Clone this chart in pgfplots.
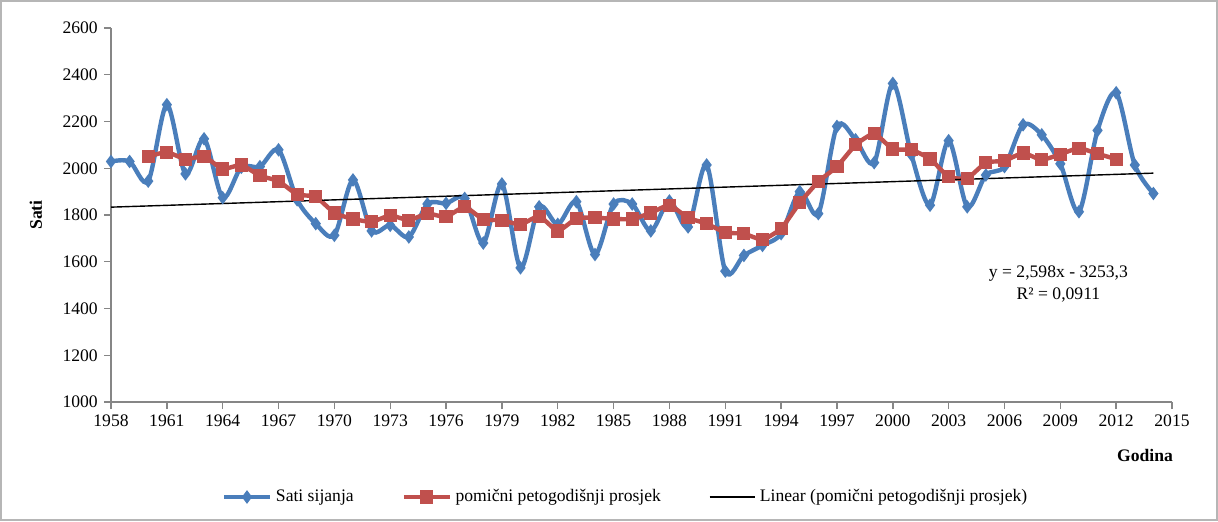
\documentclass[border=0pt]{standalone}
\usepackage{fontspec}
\setmainfont{Liberation Serif}
\usepackage{pgfplots}
\pgfplotsset{compat=1.18}
\definecolor{xblue}{RGB}{74,126,187}
\definecolor{xred}{RGB}{192,80,77}
\definecolor{axgray}{RGB}{134,134,134}
\begin{document}
\fontsize{8.8}{10.5}\selectfont
\begin{tikzpicture}[x=1pt,y=1pt]
\draw[axgray!60, line width=0.6pt] (0.5,0.5) rectangle (608.5,260);
\useasboundingbox (0,0) rectangle (609,260.5);
\begin{axis}[
  at={(55.5pt,59.5pt)}, anchor=south west,
  width=530.5pt, height=187pt, scale only axis,
  xmin=1958, xmax=2015, ymin=1000, ymax=2600,
  xtick={1958,1961,...,2015},
  ytick={1000,1200,...,2600},
  axis x line*=bottom, axis y line*=left,
  axis line style={axgray, line width=0.7pt},
  tick style={axgray, line width=0.7pt},
  tick align=outside, major tick length=3.5pt,
  /pgf/number format/assume math mode=true,
  /pgf/number format/set thousands separator={},
  ticklabel style={font=\fontsize{8.8}{10.5}\selectfont, black},
  xlabel={\textbf{Godina}}, ylabel={\textbf{Sati}},
  xlabel style={at={(axis description cs:0.9746,-0.1417)}, anchor=center, font=\fontsize{8.8}{10.5}\selectfont},
  ylabel style={at={(axis description cs:-0.059,0.5)}, anchor=south, font=\fontsize{8.8}{10.5}\selectfont},
  legend style={at={(axis description cs:0.486,-0.254)}, anchor=center, draw=none, fill=none,
    legend columns=3, font=\fontsize{8.8}{10.5}\selectfont,
    /tikz/every even column/.append style={column sep=22pt}},
  legend image code/.code={\draw[mark repeat=2,mark phase=2,#1] plot coordinates {(0cm,0cm) (0.4cm,0cm) (0.8cm,0cm)};},
  clip=false,
]
\addplot[xblue, line width=2.2pt, smooth, mark=diamond*, mark size=1.6pt, mark options={xblue}] coordinates {
(1958,2029) (1959,2029) (1960,1945) (1961,2272) (1962,1976) (1963,2126) (1964,1874)
(1965,2004) (1966,2007) (1967,2079) (1968,1865) (1969,1763) (1970,1713) (1971,1950)
(1972,1732) (1973,1756) (1974,1706) (1975,1847) (1976,1850) (1977,1871) (1978,1680)
(1979,1933) (1980,1574) (1981,1835) (1982,1760) (1983,1857) (1984,1631) (1985,1847)
(1986,1847) (1987,1732) (1988,1860) (1989,1749) (1990,2014) (1991,1560) (1992,1627)
(1993,1670) (1994,1720) (1995,1900) (1996,1806) (1997,2179) (1998,2122) (1999,2024)
(2000,2363) (2001,2057) (2002,1842) (2003,2118) (2004,1835) (2005,1971) (2006,2007)
(2007,2186) (2008,2143) (2009,2019) (2010,1814) (2011,2162) (2012,2323) (2013,2014)
(2014,1892)
};
\addlegendentry{Sati sijanja}
\addplot[xred, line width=2.2pt, smooth, tension=0.3, mark=square*, mark size=2.2pt, mark options={xred}] coordinates {
(1960,2050) (1961,2069) (1962,2039) (1963,2050) (1964,1997) (1965,2014) (1966,1968)
(1967,1945) (1968,1888) (1969,1878) (1970,1809) (1971,1783) (1972,1771) (1973,1798)
(1974,1778) (1975,1806) (1976,1792) (1977,1835) (1978,1781) (1979,1778) (1980,1759)
(1981,1795) (1982,1732) (1983,1785) (1984,1789) (1985,1783) (1986,1783) (1987,1809)
(1988,1842) (1989,1788) (1990,1763) (1991,1725) (1992,1720) (1993,1695) (1994,1742)
(1995,1852) (1996,1943) (1997,2007) (1998,2100) (1999,2148) (2000,2082) (2001,2079)
(2002,2040) (2003,1964) (2004,1957) (2005,2024) (2006,2032) (2007,2065) (2008,2036)
(2009,2060) (2010,2086) (2011,2062) (2012,2039)
};
\addlegendentry{pomični petogodišnji prosjek}
\addplot[black, line width=0.7pt] coordinates {(1958,1833.6) (2014,1979.1)};
\addlegendentry{Linear (pomični petogodišnji prosjek)}
\node[align=center, font=\fontsize{8.8}{11}\selectfont] at (axis cs:2008.9,1505) {y = 2,598x - 3253,3\\R² = 0,0911};
\end{axis}
\end{tikzpicture}
\end{document}
